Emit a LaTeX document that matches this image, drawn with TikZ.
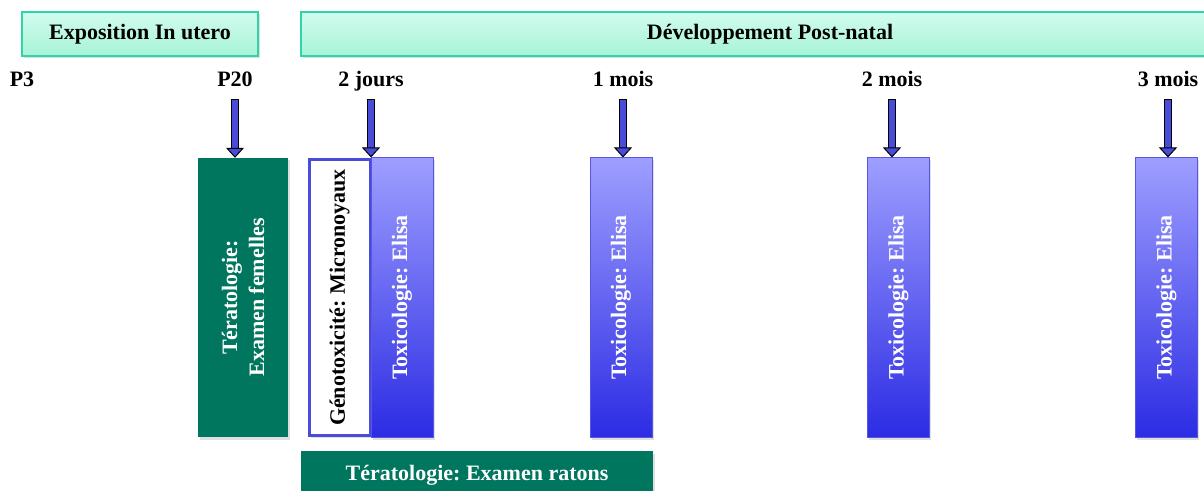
\documentclass[tikz,border=0pt]{standalone}
\usepackage{fontspec}
\setmainfont{Liberation Serif}
\usetikzlibrary{arrows.meta,shadows}
\definecolor{headtop}{RGB}{210,252,238}
\definecolor{headbot}{RGB}{166,243,215}
\definecolor{headline}{RGB}{48,212,168}
\definecolor{terato}{RGB}{0,118,94}
\definecolor{toxtop}{RGB}{158,158,255}
\definecolor{toxbot}{RGB}{44,44,228}
\definecolor{toxline}{RGB}{86,86,226}
\definecolor{arrowblue}{RGB}{72,76,216}
\frenchspacing
\begin{document}
\begin{tikzpicture}[x=1pt, y=1pt, font=\bfseries\fontsize{22}{27}\selectfont,
  boxshadow/.style={drop shadow={opacity=0.25, shadow xshift=1.5pt, shadow yshift=-2.5pt}},
  phase/.style={draw=headline, line width=1.5pt, top color=headtop, bottom color=headbot, minimum height=44pt, inner sep=0pt, boxshadow},
  stage/.style={inner sep=0pt, text depth=0pt, anchor=base},
  terabox/.style={fill=terato, text=white, inner sep=0pt, boxshadow},
  toxbox/.style={draw=toxline, line width=1pt, top color=toxtop, bottom color=toxbot, minimum width=62pt, minimum height=279pt, inner sep=0pt, boxshadow,
    label={[text=white, rotate=90]center:{Toxicologie: Elisa}}},
  blockarrow/.style={preaction={draw=black, -, line width=8pt, shorten <=12pt, shorten >=9pt},
    draw=arrowblue, line width=5.5pt, shorten <=13pt,
    -{Triangle[width=18pt, length=10pt, line width=1pt, fill=arrowblue, color=black]}}]
  \useasboundingbox (0,0) rectangle (1204,490);

  % phases
  \node[phase, minimum width=236pt] (utero) at (140,456) {Exposition In utero};
  \node[phase, minimum width=938pt] (postnatal) at (770,456) {Développement Post-natal};

  % time points
  \node[stage] (p3) at (22,403) {P3};
  \node[stage] (p20) at (235,403) {P20};
  \node[stage] (j2) at (371,403) {2 jours};
  \node[stage] (m1) at (623,403) {1 mois};
  \node[stage] (m2) at (892,403) {2 mois};
  \node[stage] (m3) at (1168,403) {3 mois};

  % tests
  \node[terabox, minimum width=90pt, minimum height=279pt,
    label={[text=white, rotate=90, align=center]center:{Tératologie:\\Examen femelles}}] (femelles) at (243,192.5) {};
  \node[draw=arrowblue, line width=3pt, fill=white, minimum width=61pt, minimum height=276pt, inner sep=0pt, boxshadow,
    label={[rotate=90]center:{Génotoxicité: Micronoyaux}}] (geno) at (339.5,192.5) {};
  \node[toxbox] (tox1) at (402,192.5) {};
  \node[toxbox] (tox2) at (621,192.5) {};
  \node[toxbox] (tox3) at (898.5,192.5) {};
  \node[toxbox] (tox4) at (1166.5,192.5) {};
  \node[terabox, minimum width=352pt, minimum height=48pt, text=white] (ratons) at (477,15) {Tératologie: Examen ratons};

  % arrows
  \draw[blockarrow] (p20.south) -- (p20.south |- femelles.north);
  \draw[blockarrow] (j2.south) -- (j2.south |- tox1.north);
  \draw[blockarrow] (m1.south) -- (m1.south |- tox2.north);
  \draw[blockarrow] (m2.south) -- (m2.south |- tox3.north);
  \draw[blockarrow] (m3.south) -- (m3.south |- tox4.north);
\end{tikzpicture}
\end{document}
